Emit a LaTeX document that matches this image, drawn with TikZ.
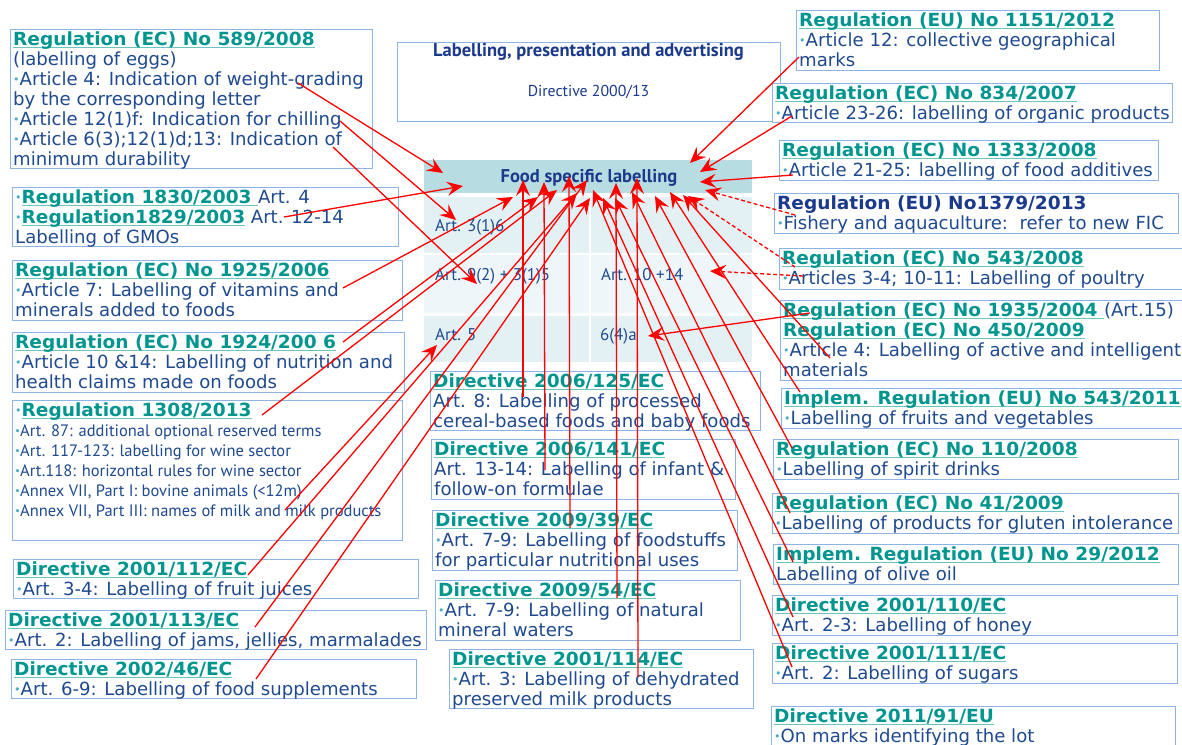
\documentclass[tikz,border=0pt]{standalone}
\usepackage{fontspec}
\setmainfont{DejaVu Sans}
\newfontfamily\condfont{PT Sans}
\newfontfamily\headfont[FakeStretch=1.025]{DejaVu Sans Bold}
\usetikzlibrary{arrows.meta}
\definecolor{boxc}{HTML}{8DB4E2}
\definecolor{headc}{HTML}{00968F}
\definecolor{ulc}{HTML}{6CC4BE}
\definecolor{bodyc}{HTML}{1F4A90}
\definecolor{navyc}{HTML}{1B3A8C}
\definecolor{bulc}{HTML}{4BACC6}
\definecolor{thc}{HTML}{B7DDE2}
\definecolor{rowa}{HTML}{E4F1F4}
\definecolor{rowb}{HTML}{EFF6F9}
\definecolor{arrc}{HTML}{FF0000}
\newcommand\RegHead[1]{{\sbox0{\headfont #1}\rlap{\color{ulc}\rule[-2.6pt]{\wd0}{1.3pt}}{\headfont\color{headc}#1}}}
\newcommand\bul{{\color{bulc}\raisebox{1.5pt}{\fontsize{11}{11}\selectfont •}}}
\tikzset{
  docframe/.style={draw=boxc,line width=1.2pt,anchor=north west,inner sep=0pt,fill=white},
  doctext/.style={anchor=north west,inner sep=0pt,align=left,text=bodyc,font=\fontsize{18.1}{20}\selectfont},
  cell/.style={anchor=north west,inner sep=0pt,draw=none},
  celltext/.style={anchor=base west,inner sep=0pt,text=bodyc,font=\condfont\fontsize{17}{20}\selectfont},
  arr/.style={draw=arrc,line width=1.3pt,-{Stealth[length=16pt,width=14pt,inset=6pt]}},
  darr/.style={arr,dash pattern=on 4pt off 2.5pt}
}
\newcommand\docbox[6]{%
  \node[docframe,minimum width=#4pt,minimum height=#5pt] (#1) at (#2,#3) {};
  \node[doctext] (#1-t) at ({#2+3},{#3+1.5}) {\rule{0pt}{14.5pt}#6};}
\begin{document}
\begin{tikzpicture}[x=1pt,y=-1pt]
\useasboundingbox (0,0) rectangle (1182,744);
\clip (0,0) rectangle (1182,744);
\fill[white] (0,0) rectangle (1182,744);

% ---- top title box
\node[docframe,minimum width=383pt,minimum height=79pt] (title) at (397,42) {};
\node[anchor=base,inner sep=0pt,text=navyc,font=\condfont\bfseries\fontsize{18.5}{20}\selectfont] (title-a) at (588.5,56.5) {Labelling, presentation and advertising};
\node[anchor=base,inner sep=0pt,text=navyc,font=\condfont\fontsize{15.8}{20}\selectfont] (title-b) at (588.5,96.5) {Directive 2000/13};

% ---- table
\node[cell,fill=thc,minimum width=328pt,minimum height=33pt] (fsl) at (424,160) {};
\node[anchor=base,inner sep=0pt,text=navyc,font=\condfont\bfseries\fontsize{18.5}{20}\selectfont] (fsl-t) at (589,182) {Food specific labelling};
\node[cell,fill=rowa,minimum width=165pt,minimum height=56pt] (c11) at (424,197) {};
\node[cell,fill=rowa,minimum width=161pt,minimum height=56pt] (c12) at (591,197) {};
\node[cell,fill=rowb,minimum width=165pt,minimum height=58pt] (c21) at (424,255) {};
\node[cell,fill=rowb,minimum width=161pt,minimum height=58pt] (c22) at (591,255) {};
\node[cell,fill=rowa,minimum width=165pt,minimum height=46pt] (c31) at (424,316) {};
\node[cell,fill=rowa,minimum width=161pt,minimum height=46pt] (c32) at (591,316) {};
\node[celltext] (c11-t) at (435,231) {Art. 3(1)6};
\node[celltext] (c21-t) at (435,280) {Art. 9(2) + 3(1)5};
\node[celltext] (c31-t) at (435,340) {Art. 5};
\node[celltext] (c22-t) at (601,280) {Art. 10 +14};
\node[celltext] (c32-t) at (600,340) {6(4)a};

% ---- left column
\docbox{L1}{10}{29}{362}{139}{\RegHead{Regulation (EC) No 589/2008}\\(labelling of eggs)\\\bul Article 4: Indication of weight-grading\\by the corresponding letter\\\bul Article 12(1)f: Indication for chilling\\\bul Article 6(3);12(1)d;13: Indication of\\minimum durability}
\docbox{L2}{12}{187}{386}{59}{\bul\RegHead{Regulation 1830/2003\ }Art. 4\\\bul\RegHead{Regulation1829/2003} Art. 12-14\\Labelling of GMOs}
\docbox{L3}{12}{260}{390}{60}{\RegHead{Regulation (EC) No 1925/2006}\\\bul Article 7: Labelling of vitamins and\\minerals added to foods}
\docbox{L4}{12}{332}{392}{60}{\RegHead{Regulation (EC) No 1924/200 6}\\\bul Article 10 \&14: Labelling of nutrition and\\health claims made on foods}
\docbox{L5}{12}{400}{390}{140}{\bul\RegHead{Regulation 1308/2013}\\{\condfont\fontsize{16.5}{20}\selectfont\bul Art. 87: additional optional reserved terms}\\{\condfont\fontsize{16.5}{20}\selectfont\bul Art. 117-123: labelling for wine sector}\\{\condfont\fontsize{16.5}{20}\selectfont\bul Art.118: horizontal rules for wine sector}\\{\condfont\fontsize{16.5}{20}\selectfont\bul Annex VII, Part I: bovine animals (<12m)}\\{\condfont\fontsize{16.5}{20}\selectfont\bul Annex VII, Part III: names of milk and milk products}}
\docbox{L6}{13}{559}{405}{39}{\RegHead{Directive 2001/112/EC}\\\bul Art. 3-4: Labelling of fruit juices}
\docbox{L7}{5}{610}{421}{39}{\RegHead{Directive 2001/113/EC}\\\bul Art. 2: Labelling of jams, jellies, marmalades}
\docbox{L8}{11}{659}{405}{39}{\RegHead{Directive 2002/46/EC}\\\bul Art. 6-9: Labelling of food supplements}

% ---- centre column
\docbox{C1}{430}{371}{330}{59}{\RegHead{Directive 2006/125/EC}\\Art. 8: Labelling of processed\\cereal-based foods and baby foods}
\docbox{C2}{431}{439}{304}{60}{\RegHead{Directive 2006/141/EC}\\Art. 13-14: Labelling of infant \&\\follow-on formulae}
\docbox{C3}{432}{510}{305}{60}{\RegHead{Directive 2009/39/EC}\\\bul Art. 7-9: Labelling of foodstuffs\\for particular nutritional uses}
\docbox{C4}{435}{580}{305}{60}{\RegHead{Directive 2009/54/EC}\\\bul Art. 7-9: Labelling of natural\\mineral waters}
\docbox{C5}{449}{649}{304}{59}{\RegHead{Directive 2001/114/EC}\\\bul Art. 3: Labelling of dehydrated\\preserved milk products}

% ---- right column
\docbox{R1}{796}{10}{363}{60}{\RegHead{Regulation (EU) No 1151/2012}\\\bul Article 12: collective geographical\\marks}
\docbox{R2}{772}{83}{400}{39}{\RegHead{Regulation (EC) No 834/2007}\\\bul Article 23-26: labelling of organic products}
\docbox{R3}{779}{140}{379}{40}{\RegHead{Regulation (EC) No 1333/2008}\\\bul Article 21-25: labelling of food additives}
\docbox{R4}{774}{193}{404}{40}{{\headfont\color{navyc}Regulation (EU) No1379/2013}\\\bul Fishery and aquaculture:\ \ refer to new FIC}
\docbox{R5}{779}{248}{410}{41}{\RegHead{Regulation (EC) No 543/2008}\\\bul Articles 3-4; 10-11: Labelling of poultry}
\docbox{R6}{780}{300}{410}{80}{\RegHead{Regulation (EC) No 1935/2004\ }(Art.15)\\\RegHead{Regulation (EC) No 450/2009}\\\bul Article 4: Labelling of active and intelligent\\materials}
\docbox{R7}{781}{388}{410}{40}{\RegHead{Implem. Regulation (EU) No 543/2011}\\\bul Labelling of fruits and vegetables}
\docbox{R8}{773}{439}{405}{40}{\RegHead{Regulation (EC) No 110/2008}\\\bul Labelling of spirit drinks}
\docbox{R9}{772}{493}{406}{40}{\RegHead{Regulation (EC) No 41/2009}\\\bul Labelling of products for gluten intolerance}
\docbox{R10}{773}{544}{405}{40}{\RegHead{Implem. Regulation (EU) No 29/2012}\\Labelling of olive oil}
\docbox{R11}{772}{595}{405}{40}{\RegHead{Directive 2001/110/EC}\\\bul Art. 2-3: Labelling of honey}
\docbox{R12}{772}{643}{405}{40}{\RegHead{Directive 2001/111/EC}\\\bul Art. 2: Labelling of sugars}
\docbox{R13}{771}{706}{404}{50}{\RegHead{Directive 2011/91/EU}\\\bul On marks identifying the lot}

% ---- connector end points
\coordinate (s589a) at (298,83);  \coordinate (t589a) at (443,173);
\coordinate (s589b) at (340,121); \coordinate (t589b) at (456,220);
\coordinate (s589c) at (333,147); \coordinate (t589c) at (477,284);
\coordinate (sgmo) at (284,217);  \coordinate (tgmo) at (463,186);
\coordinate (s1925) at (343,288); \coordinate (t1925) at (513,197);
\coordinate (s1924) at (343,342); \coordinate (t1924) at (538,197);
\coordinate (s1308) at (262,415); \coordinate (t1308) at (557,190);
\coordinate (s1308m) at (285,510); \coordinate (t1308m) at (437,345);
\coordinate (s112) at (248,575);  \coordinate (t112) at (577,193);
\coordinate (s113) at (255,627);  \coordinate (t113) at (587,180);
\coordinate (s46) at (256,679);   \coordinate (t46) at (590,198);
\coordinate (s125) at (523,397);  \coordinate (t125) at (523,180);
\coordinate (s141) at (545,470);  \coordinate (t141) at (544,182);
\coordinate (s39) at (570,528);   \coordinate (t39) at (569,176);
\coordinate (s54) at (617,598);   \coordinate (t54) at (616,183);
\coordinate (s114) at (638,677);  \coordinate (t114) at (637,178);
\coordinate (s1151) at (799,57);  \coordinate (t1151) at (690,163);
\coordinate (s834) at (792,116);  \coordinate (t834) at (700,172);
\coordinate (s1333) at (793,175); \coordinate (t1333) at (700,182);
\coordinate (s1379) at (795,215); \coordinate (t1379) at (705,190);
\coordinate (s543a) at (795,267); \coordinate (t543a) at (688,196);
\coordinate (s543b) at (803,276); \coordinate (t543b) at (710,271);
\coordinate (s1935) at (810,313); \coordinate (t1935) at (648,336);
\coordinate (s450) at (830,358);  \coordinate (t450) at (683,195);
\coordinate (s543e) at (800,392); \coordinate (t543e) at (670,192);
\coordinate (s110) at (792,448);  \coordinate (t110) at (655,196);
\coordinate (s41) at (790,513);   \coordinate (t41) at (632,192);
\coordinate (s29) at (793,562);   \coordinate (t29) at (615,198);
\coordinate (s110d) at (793,617); \coordinate (t110d) at (603,198);
\coordinate (s111) at (792,667);  \coordinate (t111) at (593,190);

% ---- connectors
\foreach \n in {589a,589b,589c,gmo,1925,1924,1308,1308m,112,113,46,125,141,39,54,114,1151,834,1333,1935,450,543e,110,41,29,110d,111}
  \draw[arr] (s\n) -- (t\n);
\foreach \n in {1379,543a,543b}
  \draw[darr] (s\n) -- (t\n);
\end{tikzpicture}
\end{document}
